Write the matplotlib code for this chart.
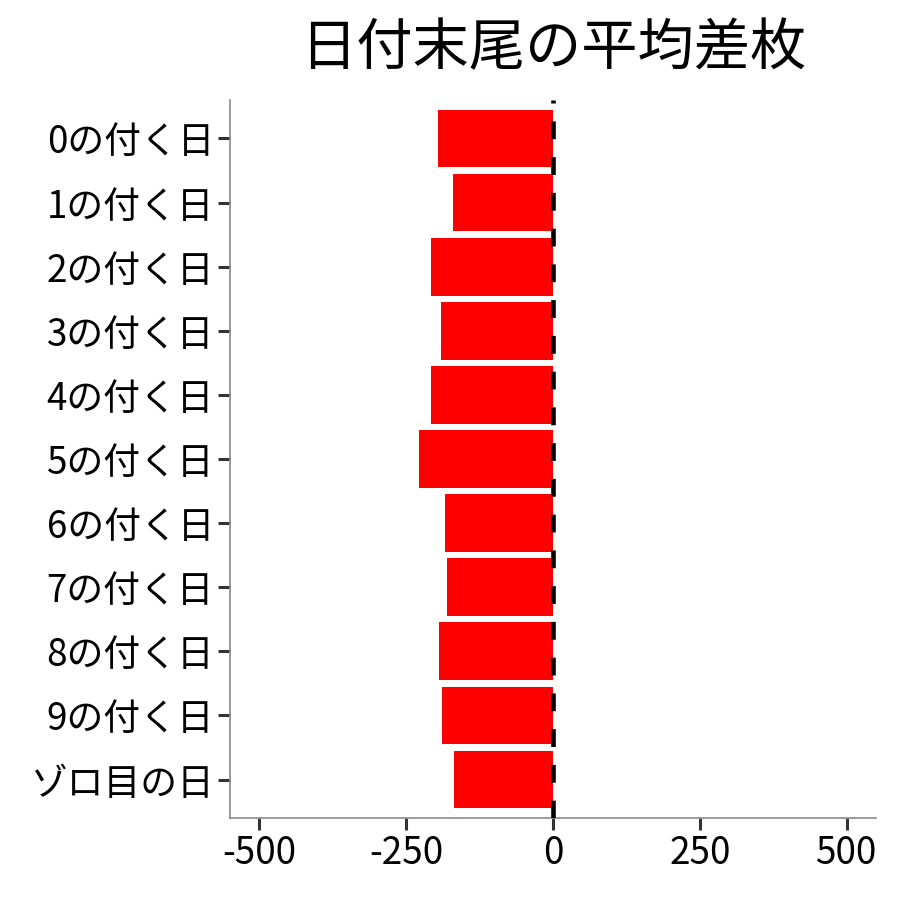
import matplotlib
matplotlib.use("Agg")
import matplotlib.pyplot as plt

plt.rcParams['font.family'] = ['Noto Sans CJK JP', 'DejaVu Sans']

categories = ["0の付く日", "1の付く日", "2の付く日", "3の付く日", "4の付く日",
              "5の付く日", "6の付く日", "7の付く日", "8の付く日", "9の付く日", "ゾロ目の日"]
values = [-196.5, -171, -208.4, -191.4, -208.4, -228.8, -184.6, -181.2, -194.8, -189.7, -169.3]
xticks = [-500, -250, 0, 250, 500]
title = "日付末尾の平均差枚"

fig = plt.figure(figsize=(9, 9), dpi=100)
ax = fig.add_axes([0.2556, 0.0911, 0.9733 - 0.2556, 0.8889 - 0.0911])

pos = list(range(len(categories)))
ax.barh(pos, values, height=0.9, color="#FF0000", zorder=2)
ax.plot([0, 0], [len(categories) - 0.4, -0.6], color="black", lw=3.3,
        linestyle=(0, (3.9, 3.9)), zorder=3, solid_capstyle="butt", dash_capstyle="butt")

ax.set_xlim(-550, 550)
ax.set_ylim(len(categories) - 0.4, -0.6)
ax.set_yticks(pos)
ax.set_yticklabels(categories)
ax.set_xticks(xticks)
ax.set_xticklabels([str(v) for v in xticks])

for s in ["top", "right"]:
    ax.spines[s].set_visible(False)
for s in ["left", "bottom"]:
    ax.spines[s].set_color("#8a8a8a")
    ax.spines[s].set_linewidth(1.2)

ax.tick_params(axis="both", length=8.5, width=2.2, color="#333333",
               labelsize=26.5, labelcolor="black", pad=3)

fig.text((0.2556 + 0.9733) / 2, 0.945, title, ha="center", va="center", fontsize=40.5)

fig.savefig("out.png", dpi=100, facecolor="white")
